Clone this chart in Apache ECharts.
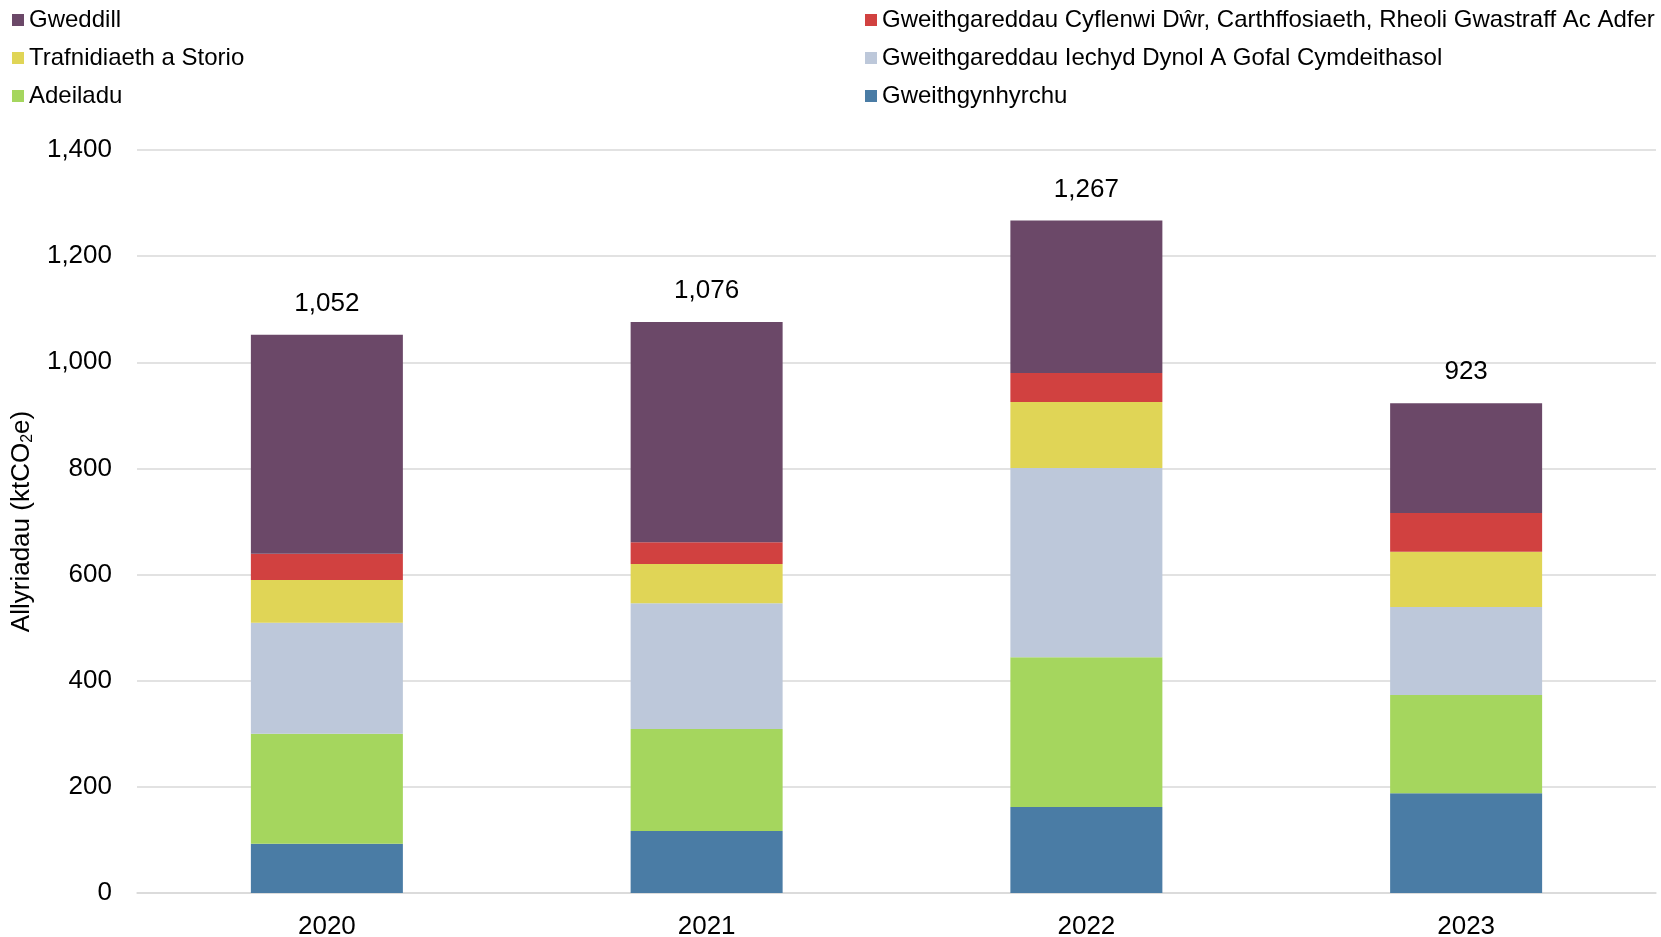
<!DOCTYPE html>
<html>
<head>
<meta charset="utf-8">
<script src="https://cdn.jsdelivr.net/npm/echarts@6/dist/echarts.min.js"></script>
<style>
  html, body { margin: 0; padding: 0; background: #fff; }
  #chart { width: 1661px; height: 937px; }
</style>
</head>
<body>
<div id="chart"></div>
<script>
const years = ['2020', '2021', '2022', '2023']
const yTicks = [0, 200, 400, 600, 800, 1000, 1200, 1400]

// stacked bottom -> top
const gweithgynhyrchu = [93, 117, 162, 188]
const adeiladu = [207, 192, 282, 185]
const iechyd = [209, 237, 357, 166]
const trafnidiaeth = [81, 74, 124, 104]
const cyflenwi = [49, 41, 55, 73]
const gweddill = [413, 415, 287, 207]
const totals = [1052, 1076, 1267, 923]

const names = {
  blue: 'Gweithgynhyrchu',
  green: 'Adeiladu',
  grey: 'Gweithgareddau Iechyd Dynol A Gofal Cymdeithasol',
  yellow: 'Trafnidiaeth a Storio',
  red: 'Gweithgareddau Cyflenwi Dŵr, Carthffosiaeth, Rheoli Gwastraff Ac Adfer',
  purple: 'Gweddill'
}

const font = '"Liberation Sans", Arial, sans-serif'
const fmt = v => v.toLocaleString('en-GB')

function bar(name, data, color) {
  return { name, type: 'bar', stack: 'total', data, barWidth: 152, itemStyle: { color } }
}

const series = [
  bar(names.blue, gweithgynhyrchu, '#4a7ca5'),
  bar(names.green, adeiladu, '#a5d65e'),
  bar(names.grey, iechyd, '#bdc8da'),
  bar(names.yellow, trafnidiaeth, '#e0d556'),
  bar(names.red, cyflenwi, '#d14140'),
  bar(names.purple, gweddill, '#6b4868')
]
series[5].label = {
  show: true, position: 'top', distance: 18,
  color: '#000', fontSize: 26, fontFamily: font,
  formatter: p => fmt(totals[p.dataIndex])
}

const legendBase = {
  orient: 'vertical', icon: 'rect', itemWidth: 12, itemHeight: 12, itemGap: 12,
  textStyle: { color: '#000', fontSize: 24, fontFamily: font, lineHeight: 26 },
  selectedMode: false
}

const chart = echarts.init(document.getElementById('chart'))
chart.setOption({
  animation: false,
  textStyle: { fontFamily: font },
  legend: [
    Object.assign({ left: 7, top: 2, data: [names.purple, names.yellow, names.green] }, legendBase),
    Object.assign({ left: 860, top: 2, data: [names.red, names.grey, names.blue] }, legendBase)
  ],
  grid: { left: 137, right: 5, top: 150, bottom: 44, containLabel: false, outerBoundsMode: 'none' },
  xAxis: {
    type: 'category', data: years,
    axisLine: { lineStyle: { color: '#d9d9d9', width: 1.5 } },
    axisTick: { show: false },
    axisLabel: { color: '#000', fontSize: 26, margin: 21 }
  },
  yAxis: {
    type: 'value', min: yTicks[0], max: yTicks[yTicks.length - 1], interval: 200,
    name: 'Allyriadau (ktCO{sub|2}e)', nameLocation: 'middle', nameGap: 99,
    nameTextStyle: {
      color: '#000', fontSize: 26,
      rich: { sub: { fontSize: 16, color: '#000', padding: [12, 0, 0, 0] } }
    },
    axisLine: { show: false }, axisTick: { show: false },
    axisLabel: { color: '#000', fontSize: 26, margin: 25, formatter: v => fmt(v) },
    splitLine: { lineStyle: { color: '#d9d9d9', width: 1.5 } }
  },
  series
})
</script>
</body>
</html>
